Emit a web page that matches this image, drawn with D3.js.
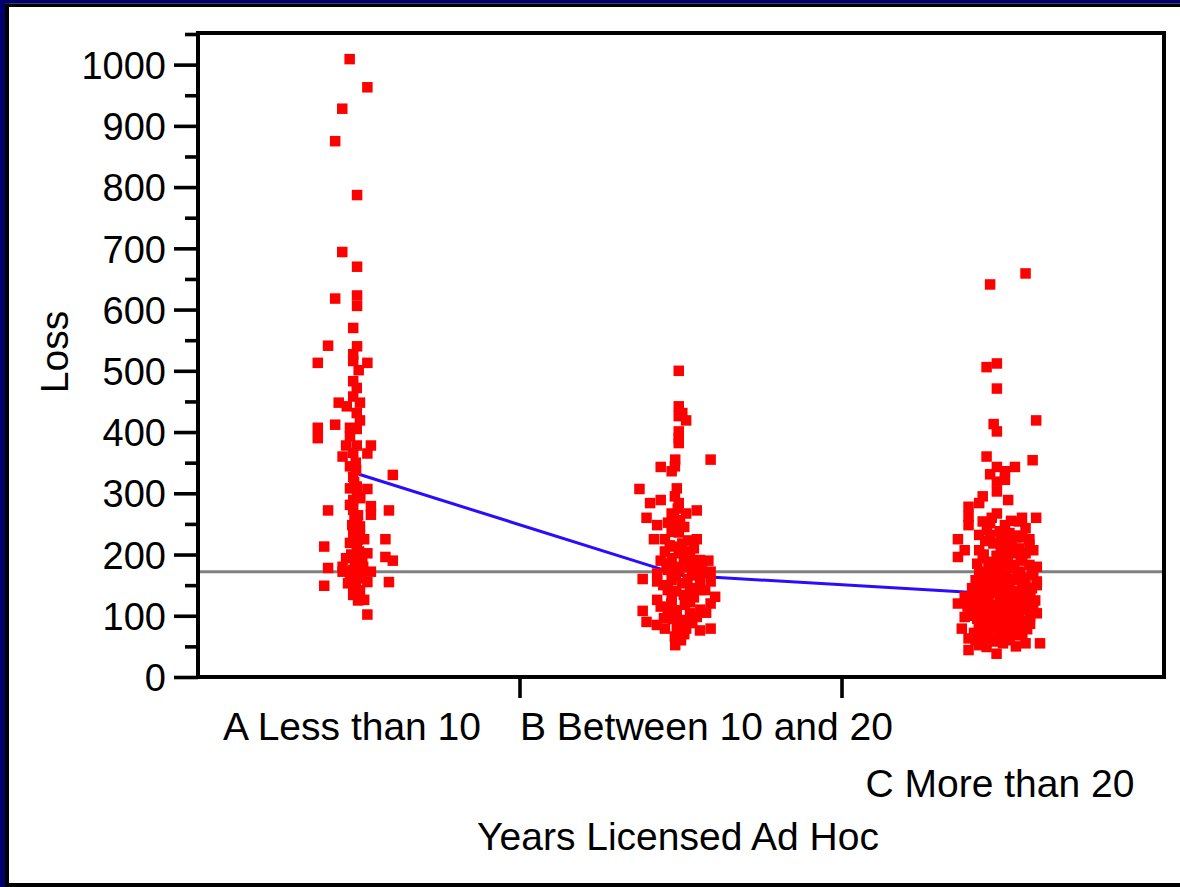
<!DOCTYPE html>
<html><head><meta charset="utf-8">
<script src="https://cdn.jsdelivr.net/npm/d3@7"></script>
<style>
body{margin:0;background:#fff}
svg{display:block}
text{font-family:"Liberation Sans",Arial,Helvetica,sans-serif;fill:#000}
</style>
</head><body>
<svg id="chart" width="1180" height="887"></svg>
<script>
// ---- data ----
const categories = ["A Less than 10", "B Between 10 and 20", "C More than 20"];
const yTitle = "Loss";
const xTitle = "Years Licensed Ad Hoc";
const yMajorTicks = [0,100,200,300,400,500,600,700,800,900,1000];
const yMinorTicks = [50,150,250,350,450,550,650,750,850,950,1050];
// group means (blue line) and overall mean (grey line)
const groupMeans = [331, 166, 135];
const overallMean = 172;
// [jitter (fraction of a category width), Loss]
const pointsA = [
[-0.029,1009],[0.026,963],[-0.052,928],[-0.074,875],[-0.006,787],[-0.052,694],[-0.006,670],[-0.006,623],
[-0.074,618],[-0.006,606],[-0.018,570],[-0.096,541],[-0.006,540],[-0.018,527],[-0.128,513],[0.026,513],
[-0.018,516],[-0.001,501],[-0.018,483],[-0.007,472],[-0.018,458],[-0.063,448],[0.003,448],[-0.038,442],
[-0.007,431],[-0.074,412],[0.003,419],[-0.128,407],[-0.128,390],[-0.028,407],[-0.007,405],[-0.028,393],
[-0.040,378],[-0.007,378],[0.037,378],[0.026,365],[-0.018,366],[-0.051,360],[-0.028,344],[-0.018,327],
[0.105,330],[-0.028,308],[-0.007,311],[0.026,307],[-0.018,289],[-0.096,272],[0.037,279],[0.037,265],
[0.093,272],[-0.018,273],[-0.007,257],[0.003,246],[-0.018,235],[-0.028,219],[0.016,225],[0.082,225],
[-0.108,213],[-0.007,213],[0.026,202],[0.082,196],[0.105,190],[-0.040,194],[-0.007,196],[-0.096,178],
[-0.051,180],[-0.051,172],[-0.018,175],[0.013,180],[0.037,172],[-0.028,164],[0.003,161],[0.026,155],
[0.093,155],[-0.108,149],[-0.018,142],[-0.018,134],[0.003,142],[0.016,126],[0.026,102],
[-0.009,338],[-0.006,297],[-0.028,281],[-0.003,264],[-0.021,248],[0.003,232],[-0.012,186],[-0.034,153],
[-0.003,125],[0.000,205],[-0.015,318],[-0.010,350],[0.004,292],[-0.014,258],[-0.004,224],[-0.024,200],
[0.008,170],[-0.010,150],[0.010,188]
];
const pointsB = [
[-0.007,500],[-0.007,442],[0.004,431],[-0.007,426],[0.016,419],[-0.007,401],[-0.007,390],[-0.007,382],
[-0.018,355],[0.092,355],[-0.063,343],[-0.019,344],[-0.029,336],[-0.129,307],[-0.013,308],[-0.019,295],
[-0.063,289],[-0.096,284],[-0.007,284],[-0.029,267],[0.016,267],[0.049,272],[-0.107,260],[-0.074,248],
[-0.019,251],[-0.029,237],[-0.007,236],[-0.084,225],[-0.050,225],[0.004,218],[0.049,225],[-0.050,205],
[-0.019,213],[-0.007,202],[-0.063,190],[-0.029,194],[0.028,194],[0.059,191],[0.085,190],[0.026,180],
[-0.019,180],[-0.041,175],[-0.119,160],[-0.074,169],[-0.074,156],[0.049,172],[0.092,172],[0.092,156],
[0.059,158],[-0.029,158],[0.004,153],[-0.041,142],[0.028,145],[0.059,142],[-0.074,126],[-0.029,126],
[0.028,122],[0.106,131],[0.092,120],[-0.063,115],[-0.119,108],[-0.041,104],[0.028,104],[0.049,98],
[-0.107,90],[-0.075,85],[-0.050,79],[-0.013,82],[0.016,79],[0.059,76],[0.092,79],[-0.019,66],[-0.018,52],
[-0.003,256],[-0.040,252],[0.009,190],[-0.016,166],[0.009,134],[-0.013,109],[-0.053,96],[0.003,93],
[0.034,166],[0.075,142],[0.078,105],[0.022,223],[0.040,210],[0.065,175],[-0.030,120],[0.010,70],
[-0.010,275],[-0.022,262],[0.010,245],[-0.035,215],[0.015,205],[-0.045,185],[0.045,185],[-0.005,175],
[0.020,160],[-0.055,150],[-0.015,140],[0.040,130],[-0.040,112],[0.012,118],[0.060,110],[-0.025,95],
[0.035,88],[0.000,60]
];
const pointsC = [
[0.070,659],[-0.040,641],[-0.019,512],[-0.051,506],[-0.019,471],[0.103,419],[-0.029,413],[-0.019,401],
[-0.051,360],[0.092,354],[-0.019,343],[0.037,343],[-0.040,331],[0.006,336],[-0.019,319],[0.006,322],
[-0.063,295],[-0.019,303],[0.016,289],[-0.074,284],[-0.107,278],[-0.019,267],[-0.107,262],[-0.107,248],
[0.059,260],[0.103,260],[-0.063,254],[-0.040,251],[0.006,248],[0.049,254],[0.070,243],[-0.074,232],
[0.049,231],[-0.140,225],[-0.040,232],[-0.007,224],[0.082,225],[-0.119,207],[-0.074,207],[-0.007,207],
[0.027,216],[0.082,216],[0.037,202],[0.070,202],[0.094,207],[-0.140,196],[-0.063,194],[-0.030,188],
[0.006,194],[-0.074,172],[0.027,183],[0.082,183],[0.105,180],[-0.040,175],[-0.007,175],[0.053,172],
[0.094,167],[-0.096,145],[-0.074,153],[-0.040,158],[0.006,156],[0.043,158],[0.105,156],[0.074,145],
[-0.140,120],[-0.119,131],[-0.074,128],[-0.020,137],[0.022,131],[0.094,120],[0.053,126],[-0.119,98],
[-0.074,104],[-0.030,109],[0.011,101],[0.084,98],[0.105,104],[-0.128,79],[-0.074,82],[-0.030,82],
[0.032,76],[0.084,87],[-0.107,63],[-0.074,52],[-0.020,63],[0.011,66],[0.070,55],[0.115,55],
[-0.107,44],[-0.020,38],[-0.051,49],[0.105,150],
[-0.050,240],[-0.010,238],[0.020,235],[0.040,228],[-0.030,218],[0.000,212],[0.050,210],[-0.060,200],
[-0.020,198],[0.015,196],[0.060,192],[-0.045,185],[0.000,185],[0.035,178],[-0.065,165],[-0.025,168],
[0.010,165],[0.030,160],[0.070,162],[-0.085,158],[-0.055,150],[-0.015,148],[0.020,146],[0.050,140],
[-0.040,138],[0.000,140],[0.035,135],[0.065,132],[-0.090,125],[-0.060,120],[-0.030,118],[0.005,122],
[0.040,115],[0.070,112],[-0.100,110],[-0.050,108],[-0.010,105],[0.020,110],[0.050,100],[-0.080,95],
[-0.040,92],[0.000,95],[0.030,90],[0.065,92],[-0.060,85],[-0.015,88],[0.015,80],[0.050,78],
[-0.090,72],[-0.045,70],[0.000,75],[0.040,68],[-0.030,58],[0.020,60],[-0.060,60],[0.045,120],
[-0.075,140],[0.085,130],[0.090,145],[-0.110,115],
[-0.035,260],[0.025,255],[-0.055,222],[0.010,225],[0.060,228],[-0.005,200],[0.030,205],[-0.080,185],
[0.020,182],[0.055,190],[-0.020,178],[-0.050,170],[0.045,165],[-0.010,160],[-0.085,145],[-0.025,152],
[0.010,150],[0.060,150],[-0.060,135],[-0.010,128],[0.025,125],[0.080,118],[-0.045,122],[-0.080,110],
[-0.025,112],[0.005,112],[0.035,102],[-0.055,100],[-0.020,96],[0.010,88],[0.045,88],[-0.075,88],
[-0.035,80],[0.030,72],[-0.010,70],[-0.060,75],[0.060,70],[-0.085,60],[0.000,55],[0.040,50],
[0.080,110],[0.075,78],[-0.095,100],[-0.100,130],[0.100,125],[0.090,170]
];
const groups = [pointsA, pointsB, pointsC];

// ---- drawing ----
const svg = d3.select("#chart");
const W = 1180, H = 887;
const plot = {left: 198, right: 1164, top: 33, bottom: 677};

// background frame
svg.append("rect").attr("x",0).attr("y",0).attr("width",W).attr("height",H).attr("fill","#fff");
svg.append("rect").attr("x",0).attr("y",0).attr("width",W).attr("height",3.5).attr("fill","#00006e");
svg.append("rect").attr("x",0).attr("y",0).attr("width",5).attr("height",H).attr("fill","#00006e");
svg.append("rect").attr("x",5).attr("y",3.5).attr("width",W-5).attr("height",3.5).attr("fill","#000");
svg.append("rect").attr("x",5).attr("y",3.5).attr("width",4).attr("height",H).attr("fill","#000");
svg.append("rect").attr("x",5).attr("y",883).attr("width",W-5).attr("height",4).attr("fill","#000");

const x = d3.scaleLinear().domain([-0.5, 2.5]).range([plot.left, plot.right]);
const y = d3.scaleLinear().domain([0, 1050]).range([plot.bottom, plot.top + 1]);

// overall mean line
svg.append("line")
  .attr("x1", plot.left).attr("x2", plot.right)
  .attr("y1", y(overallMean)).attr("y2", y(overallMean))
  .attr("stroke", "#808080").attr("stroke-width", 3);

// group mean line
svg.append("path")
  .datum(groupMeans)
  .attr("fill","none").attr("stroke","#2a0cff").attr("stroke-width",3)
  .attr("d", d3.line().x((d,i)=>x(i)).y(d=>y(d)));

// points
const s = 10.5;
groups.forEach((pts, gi) => {
  svg.append("g").selectAll("rect").data(pts).join("rect")
    .attr("x", d => x(gi + d[0]) - s/2)
    .attr("y", d => y(d[1]) - s/2)
    .attr("width", s).attr("height", s)
    .attr("fill", "#ff0000");
});

// plot frame
svg.append("rect")
  .attr("x", plot.left).attr("y", plot.top)
  .attr("width", plot.right - plot.left).attr("height", plot.bottom - plot.top)
  .attr("fill","none").attr("stroke","#000").attr("stroke-width",4);

// y axis (major)
const yAxis = svg.append("g").attr("transform", `translate(${plot.left},0)`)
  .call(d3.axisLeft(y).tickValues(yMajorTicks).tickSize(24).tickPadding(8).tickFormat(d3.format("d")));
yAxis.select(".domain").remove();
yAxis.selectAll(".tick line").attr("stroke","#000").attr("stroke-width",3.6);
yAxis.selectAll(".tick text").attr("font-size", 38).attr("font-family",'"Liberation Sans",Arial,sans-serif').attr("dy","0.36em").attr("fill","#000");

// y axis (minor)
const yMinor = svg.append("g").attr("transform", `translate(${plot.left},0)`)
  .call(d3.axisLeft(y).tickValues(yMinorTicks).tickSize(13).tickFormat(""));
yMinor.select(".domain").remove();
yMinor.selectAll(".tick line").attr("stroke","#000").attr("stroke-width",3.6);

// x axis ticks at category boundaries
svg.append("g").selectAll("line").data([0.5, 1.5]).join("line")
  .attr("x1", d => x(d)).attr("x2", d => x(d))
  .attr("y1", plot.bottom).attr("y2", plot.bottom + 21)
  .attr("stroke","#000").attr("stroke-width",3.6);

// category labels (staggered like the original)
const labelFont = 39;
svg.append("text").attr("x", x(0) - 7).attr("y", 740).attr("text-anchor","middle")
  .attr("font-size", labelFont).text(categories[0]);
svg.append("text").attr("x", x(0.5)).attr("y", 740).attr("text-anchor","start")
  .attr("font-size", labelFont).text(categories[1]);
svg.append("text").attr("x", x(2) - 3).attr("y", 797).attr("text-anchor","middle")
  .attr("font-size", labelFont).text(categories[2]);

// axis titles
svg.append("text").attr("x", 678).attr("y", 850).attr("text-anchor","middle")
  .attr("font-size", labelFont).text(xTitle);
svg.append("text").attr("transform", "translate(68,352) rotate(-90)").attr("text-anchor","middle")
  .attr("font-size", labelFont).text(yTitle);
</script>
</body></html>
